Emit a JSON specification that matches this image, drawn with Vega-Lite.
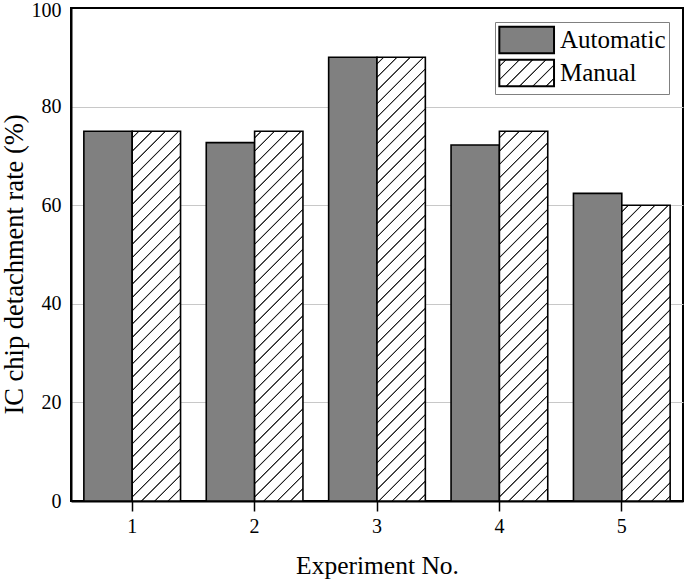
{
  "$schema": "https://vega.github.io/schema/vega-lite/v6.json",
  "width": 612,
  "height": 493,
  "autosize": {"type": "none"},
  "padding": {"left": 71, "top": 8, "right": 2, "bottom": 79},
  "config": {
    "view": {"stroke": "black", "strokeWidth": 2},
    "font": "Liberation Serif",
    "axis": {"labelFont": "Liberation Serif", "titleFont": "Liberation Serif", "labelColor": "black", "titleColor": "black", "titleFontWeight": "normal", "domainColor": "black", "domainWidth": 2, "tickColor": "black", "tickWidth": 1.5}
  },
  "params": [
    {"name": "hatch", "value": [
      {"offset":0.0103,"color":"#fff"},{"offset":0.0118,"color":"#222"},{"offset":0.0132,"color":"#222"},{"offset":0.0147,"color":"#fff"},
      {"offset":0.0353,"color":"#fff"},{"offset":0.0368,"color":"#222"},{"offset":0.0382,"color":"#222"},{"offset":0.0397,"color":"#fff"},
      {"offset":0.0603,"color":"#fff"},{"offset":0.0618,"color":"#222"},{"offset":0.0632,"color":"#222"},{"offset":0.0647,"color":"#fff"},
      {"offset":0.0853,"color":"#fff"},{"offset":0.0868,"color":"#222"},{"offset":0.0882,"color":"#222"},{"offset":0.0897,"color":"#fff"},
      {"offset":0.1103,"color":"#fff"},{"offset":0.1118,"color":"#222"},{"offset":0.1132,"color":"#222"},{"offset":0.1147,"color":"#fff"},
      {"offset":0.1353,"color":"#fff"},{"offset":0.1368,"color":"#222"},{"offset":0.1382,"color":"#222"},{"offset":0.1397,"color":"#fff"},
      {"offset":0.1603,"color":"#fff"},{"offset":0.1618,"color":"#222"},{"offset":0.1632,"color":"#222"},{"offset":0.1647,"color":"#fff"},
      {"offset":0.1853,"color":"#fff"},{"offset":0.1868,"color":"#222"},{"offset":0.1882,"color":"#222"},{"offset":0.1897,"color":"#fff"},
      {"offset":0.2103,"color":"#fff"},{"offset":0.2118,"color":"#222"},{"offset":0.2132,"color":"#222"},{"offset":0.2147,"color":"#fff"},
      {"offset":0.2353,"color":"#fff"},{"offset":0.2368,"color":"#222"},{"offset":0.2382,"color":"#222"},{"offset":0.2397,"color":"#fff"},
      {"offset":0.2603,"color":"#fff"},{"offset":0.2618,"color":"#222"},{"offset":0.2632,"color":"#222"},{"offset":0.2647,"color":"#fff"},
      {"offset":0.2853,"color":"#fff"},{"offset":0.2868,"color":"#222"},{"offset":0.2882,"color":"#222"},{"offset":0.2897,"color":"#fff"},
      {"offset":0.3103,"color":"#fff"},{"offset":0.3118,"color":"#222"},{"offset":0.3132,"color":"#222"},{"offset":0.3147,"color":"#fff"},
      {"offset":0.3353,"color":"#fff"},{"offset":0.3368,"color":"#222"},{"offset":0.3382,"color":"#222"},{"offset":0.3397,"color":"#fff"},
      {"offset":0.3603,"color":"#fff"},{"offset":0.3618,"color":"#222"},{"offset":0.3632,"color":"#222"},{"offset":0.3647,"color":"#fff"},
      {"offset":0.3853,"color":"#fff"},{"offset":0.3868,"color":"#222"},{"offset":0.3882,"color":"#222"},{"offset":0.3897,"color":"#fff"},
      {"offset":0.4103,"color":"#fff"},{"offset":0.4118,"color":"#222"},{"offset":0.4132,"color":"#222"},{"offset":0.4147,"color":"#fff"},
      {"offset":0.4353,"color":"#fff"},{"offset":0.4368,"color":"#222"},{"offset":0.4382,"color":"#222"},{"offset":0.4397,"color":"#fff"},
      {"offset":0.4603,"color":"#fff"},{"offset":0.4618,"color":"#222"},{"offset":0.4632,"color":"#222"},{"offset":0.4647,"color":"#fff"},
      {"offset":0.4853,"color":"#fff"},{"offset":0.4868,"color":"#222"},{"offset":0.4882,"color":"#222"},{"offset":0.4897,"color":"#fff"},
      {"offset":0.5103,"color":"#fff"},{"offset":0.5118,"color":"#222"},{"offset":0.5132,"color":"#222"},{"offset":0.5147,"color":"#fff"},
      {"offset":0.5353,"color":"#fff"},{"offset":0.5368,"color":"#222"},{"offset":0.5382,"color":"#222"},{"offset":0.5397,"color":"#fff"},
      {"offset":0.5603,"color":"#fff"},{"offset":0.5618,"color":"#222"},{"offset":0.5632,"color":"#222"},{"offset":0.5647,"color":"#fff"},
      {"offset":0.5853,"color":"#fff"},{"offset":0.5868,"color":"#222"},{"offset":0.5882,"color":"#222"},{"offset":0.5897,"color":"#fff"},
      {"offset":0.6103,"color":"#fff"},{"offset":0.6118,"color":"#222"},{"offset":0.6132,"color":"#222"},{"offset":0.6147,"color":"#fff"},
      {"offset":0.6353,"color":"#fff"},{"offset":0.6368,"color":"#222"},{"offset":0.6382,"color":"#222"},{"offset":0.6397,"color":"#fff"},
      {"offset":0.6603,"color":"#fff"},{"offset":0.6618,"color":"#222"},{"offset":0.6632,"color":"#222"},{"offset":0.6647,"color":"#fff"},
      {"offset":0.6853,"color":"#fff"},{"offset":0.6868,"color":"#222"},{"offset":0.6882,"color":"#222"},{"offset":0.6897,"color":"#fff"},
      {"offset":0.7103,"color":"#fff"},{"offset":0.7118,"color":"#222"},{"offset":0.7132,"color":"#222"},{"offset":0.7147,"color":"#fff"},
      {"offset":0.7353,"color":"#fff"},{"offset":0.7368,"color":"#222"},{"offset":0.7382,"color":"#222"},{"offset":0.7397,"color":"#fff"},
      {"offset":0.7603,"color":"#fff"},{"offset":0.7618,"color":"#222"},{"offset":0.7632,"color":"#222"},{"offset":0.7647,"color":"#fff"},
      {"offset":0.7853,"color":"#fff"},{"offset":0.7868,"color":"#222"},{"offset":0.7882,"color":"#222"},{"offset":0.7897,"color":"#fff"},
      {"offset":0.8103,"color":"#fff"},{"offset":0.8118,"color":"#222"},{"offset":0.8132,"color":"#222"},{"offset":0.8147,"color":"#fff"},
      {"offset":0.8353,"color":"#fff"},{"offset":0.8368,"color":"#222"},{"offset":0.8382,"color":"#222"},{"offset":0.8397,"color":"#fff"},
      {"offset":0.8603,"color":"#fff"},{"offset":0.8618,"color":"#222"},{"offset":0.8632,"color":"#222"},{"offset":0.8647,"color":"#fff"},
      {"offset":0.8853,"color":"#fff"},{"offset":0.8868,"color":"#222"},{"offset":0.8882,"color":"#222"},{"offset":0.8897,"color":"#fff"},
      {"offset":0.9103,"color":"#fff"},{"offset":0.9118,"color":"#222"},{"offset":0.9132,"color":"#222"},{"offset":0.9147,"color":"#fff"},
      {"offset":0.9353,"color":"#fff"},{"offset":0.9368,"color":"#222"},{"offset":0.9382,"color":"#222"},{"offset":0.9397,"color":"#fff"},
      {"offset":0.9603,"color":"#fff"},{"offset":0.9618,"color":"#222"},{"offset":0.9632,"color":"#222"},{"offset":0.9647,"color":"#fff"},
      {"offset":0.9853,"color":"#fff"},{"offset":0.9868,"color":"#222"},{"offset":0.9882,"color":"#222"},{"offset":0.9897,"color":"#fff"}
    ]}
  ],
  "data": {"values": [
    {"exp": "1", "type": "Automatic", "rate": 75},
    {"exp": "1", "type": "Manual", "rate": 75},
    {"exp": "2", "type": "Automatic", "rate": 72.7},
    {"exp": "2", "type": "Manual", "rate": 75},
    {"exp": "3", "type": "Automatic", "rate": 90},
    {"exp": "3", "type": "Manual", "rate": 90},
    {"exp": "4", "type": "Automatic", "rate": 72.2},
    {"exp": "4", "type": "Manual", "rate": 75},
    {"exp": "5", "type": "Automatic", "rate": 62.4},
    {"exp": "5", "type": "Manual", "rate": 60}
  ]},
  "mark": {
    "type": "bar",
    "stroke": "black",
    "strokeWidth": 1.6,
    "fill": {"expr": "(datum.type || datum.value) === 'Manual' ? {gradient: 'linear', x1: 0, y1: 0, x2: (datum.rate ? 48.35 * 532 / (2337.7 + pow(4.93 * datum.rate, 2)) : 7.9), y2: (datum.rate ? 4.93 * datum.rate * 532 / (2337.7 + pow(4.93 * datum.rate, 2)) : 3.8), stops: hatch} : '#808080'"}
  },
  "encoding": {
    "x": {
      "field": "exp", "type": "nominal",
      "scale": {"paddingInner": 0.21, "paddingOuter": 0.105},
      "axis": {"labelAngle": 0, "title": "Experiment No.", "tickSize": 10, "labelPadding": 5, "labelFontSize": 20, "titleFontSize": 25.5, "titleBaseline": "alphabetic", "titleY": 72, "grid": false}
    },
    "xOffset": {"field": "type", "type": "nominal", "sort": ["Automatic", "Manual"]},
    "y": {
      "field": "rate", "type": "quantitative",
      "scale": {"domain": [0, 100], "nice": false},
      "axis": {
        "values": [0, 10, 20, 30, 40, 50, 60, 70, 80, 90, 100],
        "labelExpr": "datum.value % 20 === 0 ? datum.label : ''",
        "tickSize": 0,
        "grid": true,
        "gridColor": "#c8c8c8",
        "gridWidth": 1,
        "gridOpacity": {"condition": {"test": "datum.value % 20 === 0 && datum.value > 0 && datum.value < 100", "value": 1}, "value": 0},
        "labelFontSize": 20,
        "labelPadding": 10,
        "labelOffset": {"condition": {"test": "datum.value === 100", "value": 2}, "value": 0},
        "title": "IC chip detachment rate (%)",
        "titleFontSize": 26.5,
        "titleAngle": -90,
        "titleBaseline": "alphabetic",
        "titleX": -49,
        "titleY": 256,
        "encode": {
          "ticks": {
            "x2": {"value": {"expr": "datum.value % 20 === 0 ? 10 : 5"}}
          }
        }
      }
    },
    "opacity": {
      "field": "type", "type": "ordinal",
      "sort": ["Automatic", "Manual"],
      "scale": {"domain": ["Automatic", "Manual"], "range": [1, 1]},
      "legend": {
        "title": null,
        "orient": "top-right",
        "offset": 14,
        "padding": 3,
        "strokeColor": "#808080",
        "fillColor": "white",
        "labelFont": "Liberation Serif",
        "labelFontSize": 25,
        "labelColor": "black",
        "labelOffset": 32,
        "labelLimit": 300,
        "rowPadding": -4,
        "symbolType": "M-1,-0.96H3V0.96H-1Z",
        "symbolSize": 748,
        "symbolStrokeWidth": 2
      }
    }
  }
}
